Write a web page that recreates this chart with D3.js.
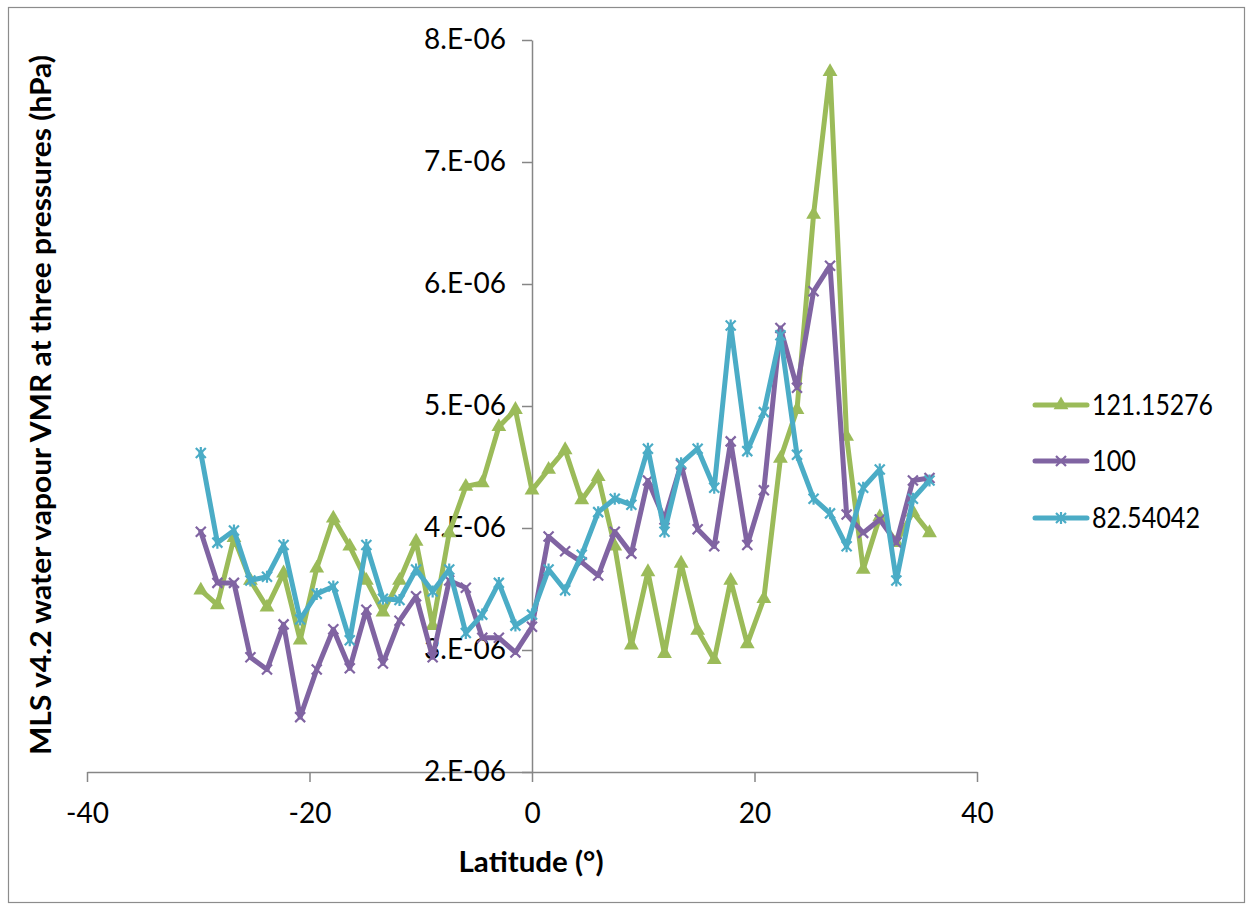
<!DOCTYPE html>
<html>
<head>
<meta charset="utf-8">
<script src="https://cdn.jsdelivr.net/npm/d3@7"></script>
<style>
html,body{margin:0;padding:0;background:#fff;}
svg{display:block;}
</style>
</head>
<body>
<svg id="chart" width="1252" height="909"></svg>
<script>
// ---- data ----
const latitudes = [-29.77,-28.28,-26.79,-25.31,-23.82,-22.33,-20.84,-19.35,-17.86,-16.38,
  -14.89,-13.40,-11.91,-10.42,-8.93,-7.44,-5.95,-4.47,-2.98,-1.49,
  0.00,1.49,2.98,4.47,5.95,7.44,8.93,10.42,11.91,13.40,
  14.89,16.38,17.86,19.35,20.84,22.33,23.82,25.31,26.79,28.28,
  29.77,31.26,32.75,34.24,35.73];
const seriesNames = ["121.15276","100","82.54042"];
const vmr121 = [3.49,3.37,3.92,3.57,3.35,3.63,3.08,3.67,4.08,3.85,
  3.57,3.31,3.57,3.89,3.20,3.96,4.34,4.37,4.83,4.97,
  4.31,4.48,4.64,4.23,4.42,3.85,3.04,3.64,2.97,3.71,
  3.16,2.92,3.57,3.05,3.42,4.57,4.97,6.57,7.74,4.75,
  3.66,4.09,3.88,4.13,3.96];
const vmr100 = [3.97,3.55,3.55,2.94,2.84,3.21,2.45,2.84,3.17,2.85,
  3.33,2.89,3.24,3.44,2.94,3.57,3.51,3.10,3.10,2.98,
  3.19,3.93,3.81,3.72,3.61,3.97,3.79,4.39,4.07,4.52,
  3.99,3.85,4.71,3.86,4.31,5.64,5.15,5.94,6.15,4.11,
  3.96,4.07,3.88,4.39,4.41];
const vmr82 = [4.615,3.88,3.98,3.57,3.60,3.86,3.25,3.46,3.52,3.08,
  3.86,3.42,3.41,3.66,3.48,3.66,3.14,3.29,3.55,3.20,
  3.29,3.66,3.49,3.78,4.13,4.24,4.19,4.65,3.97,4.53,
  4.65,4.33,5.66,4.63,4.95,5.58,4.60,4.24,4.12,3.85,
  4.33,4.48,3.57,4.24,4.39];
const scaleFactor = 1e-6; // values above are in units of 1e-6
const xTicks = [-40,-20,0,20,40];
const yTicks = [2e-6,3e-6,4e-6,5e-6,6e-6,7e-6,8e-6];
const xTitle = "Latitude (°)";
const yTitle = "MLS v4.2 water vapour VMR at three pressures (hPa)";
const colors = ["#9BBB59","#8064A2","#4BACC6"];
const markers = ["triangle","x","star"];

// ---- chart ----
const svg = d3.select("#chart");
const FONT = "Lato, 'Open Sans', sans-serif";
const axisColor = "#868686";

svg.append("rect").attr("x",8.5).attr("y",7.5).attr("width",1236).attr("height",895)
  .attr("fill","#fff").attr("stroke","#8c8c8c").attr("stroke-width",1.2);

const x = d3.scaleLinear().domain([-40,40]).range([87,977]);
const y = d3.scaleLinear().domain([2e-6,8e-6]).range([772,40]);

// x axis at bottom (y = 2e-6)
const xAxis = d3.axisBottom(x).tickValues(xTicks).tickSize(10).tickSizeOuter(0).tickPadding(21)
  .tickFormat(d => String(d));
const gx = svg.append("g").attr("transform",`translate(0,${y(2e-6)})`).call(xAxis);
gx.select(".domain").attr("stroke",axisColor).attr("stroke-width",1.5);
gx.selectAll(".tick line").attr("stroke",axisColor).attr("stroke-width",1.5);
gx.selectAll(".tick text").attr("font-family",FONT).attr("font-size",28).attr("fill","#000")
  .text(d => d < 0 ? "-" + Math.abs(d) : String(d));

// y axis at x = 0
const yAxis = d3.axisLeft(y).tickValues(yTicks).tickSize(10).tickSizeOuter(0).tickPadding(16)
  .tickFormat(d => Math.round(d/scaleFactor) + ".E-06");
const gy = svg.append("g").attr("transform",`translate(${x(0)},0)`).call(yAxis);
gy.select(".domain").attr("stroke",axisColor).attr("stroke-width",1.5);
gy.selectAll(".tick line").attr("stroke",axisColor).attr("stroke-width",1.5);
gy.selectAll(".tick text").attr("font-family",FONT).attr("font-size",28).attr("fill","#000");

// titles
svg.append("text").attr("x",531).attr("y",872).attr("text-anchor","middle")
  .attr("font-family",FONT).attr("font-weight","bold").attr("font-size",28)
  .attr("textLength",145).attr("lengthAdjust","spacingAndGlyphs").text(xTitle);
svg.append("text").attr("transform","translate(51,405) rotate(-90)").attr("text-anchor","middle")
  .attr("font-family",FONT).attr("font-weight","bold").attr("font-size",28)
  .attr("textLength",700).attr("lengthAdjust","spacingAndGlyphs").text(yTitle);

// markers
function drawMarker(g, type, cx, cy, color){
  if(type==="triangle"){
    g.append("path").attr("d", d3.symbol().type(d3.symbolTriangle).size(95)())
      .attr("transform",`translate(${cx},${cy})`).attr("fill",color);
  } else if(type==="x"){
    const s=5;
    g.append("path").attr("d",`M${cx-s},${cy-s}L${cx+s},${cy+s}M${cx-s},${cy+s}L${cx+s},${cy-s}`)
      .attr("stroke",color).attr("stroke-width",2.2).attr("fill","none");
  } else {
    const s=5;
    g.append("path").attr("d",`M${cx-s},${cy-s}L${cx+s},${cy+s}M${cx-s},${cy+s}L${cx+s},${cy-s}M${cx},${cy-s-1}L${cx},${cy+s+1}`)
      .attr("stroke",color).attr("stroke-width",2.2).attr("fill","none");
  }
}

const allSeries = [vmr121, vmr100, vmr82];
const line = d3.line().x(d=>x(d[0])).y(d=>y(d[1]*scaleFactor));
allSeries.forEach((vals,si)=>{
  const pts = latitudes.map((lat,i)=>[lat, vals[i]]);
  const g = svg.append("g");
  g.append("path").datum(pts).attr("d",line).attr("fill","none")
    .attr("stroke",colors[si]).attr("stroke-width",5).attr("stroke-linejoin","round").attr("stroke-linecap","round");
  pts.forEach(p=>drawMarker(g, markers[si], x(p[0]), y(p[1]*scaleFactor), colors[si]));
});

// legend
const legendY = [405, 461, 518];
seriesNames.forEach((name,si)=>{
  const g = svg.append("g");
  const ly = legendY[si];
  g.append("line").attr("x1",1035).attr("x2",1087).attr("y1",ly).attr("y2",ly)
    .attr("stroke",colors[si]).attr("stroke-width",5).attr("stroke-linecap","round");
  drawMarker(g, markers[si], 1061, ly, colors[si]);
  g.append("text").attr("x",1092).attr("y",ly+10).attr("font-family",FONT).attr("font-size",28)
    .attr("fill","#000").attr("textLength",121).attr("lengthAdjust","spacingAndGlyphs")
    .text(name);
});
// fix legend text widths for shorter labels
svg.selectAll("g text").filter(function(){return this.textContent==="100";}).attr("textLength",44);
svg.selectAll("g text").filter(function(){return this.textContent==="82.54042";}).attr("textLength",108);
</script>
</body>
</html>
